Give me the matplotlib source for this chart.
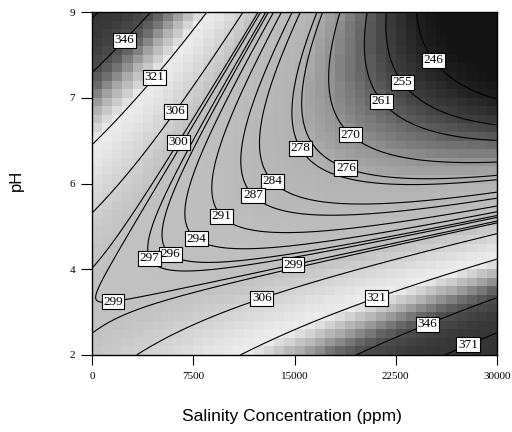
import numpy as np
import matplotlib
matplotlib.use("Agg")
import matplotlib.pyplot as plt
from matplotlib.colors import LinearSegmentedColormap, Normalize

# ---- data ----
# points lying on contour lines: salinity (ppm), pH, contour level
read_salinity = [25704, 23111, 21630, 19407, 15185, 18815, 13407, 11704, 9481, 7926,
                 5926, 3704, 1481, 6222, 14889, 5926, 12667, 4444, 20963, 2222,
                 24667, 27630,
                 0, 0, 0, 0,
                 444, 4444, 8519, 11185, 16296, 18370, 20222, 21704, 24074,
                 30000, 30000, 30000, 30000, 30000, 30000, 30000, 30000, 30000, 30000, 30000,
                 4519, 14148, 20074, 26296]
read_ph = [8.10, 7.59, 7.22, 6.57, 6.18, 5.82, 5.55, 5.20, 4.80, 4.45,
           4.10, 3.90, 3.24, 6.37, 3.84, 7.02, 3.08, 7.71, 3.24, 8.47,
           2.73, 2.35,
           8.73, 7.61, 6.14, 4.71,
           9, 9, 9, 9, 9, 9, 9, 9, 9,
           7.41, 6.76, 6.49, 6.02, 5.63, 5.22, 5.02, 4.31, 3.80, 3.16, 2.51,
           2, 2, 2, 2]
read_level = [246, 255, 261, 270, 278, 276, 284, 287, 291, 294,
              296, 297, 299, 300, 300, 306, 306, 321, 321, 346,
              346, 371,
              371, 346, 321, 306,
              371, 346, 321, 306, 278, 270, 261, 255, 246,
              246, 255, 261, 270, 278, 284, 291, 306, 321, 346, 371,
              306, 321, 346, 371]

contour_levels = [246, 255, 261, 270, 276, 278, 284, 287, 291, 294, 296, 297,
                  299, 300, 306, 321, 346, 371]

# label positions (salinity, pH)
label_positions = [(25704, 8.10), (23111, 7.59), (21630, 7.22), (19407, 6.57),
                   (15185, 6.18), (18815, 5.82), (13407, 5.55), (11704, 5.20),
                   (9481, 4.80), (7926, 4.45), (5926, 4.10), (3704, 3.90),
                   (1481, 3.24), (6222, 6.37), (14889, 3.84), (5926, 7.02),
                   (12667, 3.08), (4444, 7.71), (20963, 3.24), (2222, 8.47),
                   (24667, 2.73), (27630, 2.35)]

x_ticks = [0, 7500, 15000, 22500, 30000]
x_ticklabels = ["0", "7500", "15000", "22500", "30000"]
y_ticks = [2, 3.75, 5.5, 7.25, 9]
y_ticklabels = ["2", "4", "6", "7", "9"]

# gray shade of the background as a function of response value
shade_values = [240, 246, 255, 261, 270, 278, 290, 300, 306, 315, 321, 330, 340, 346, 360, 380]
shade_gray = [0.08, 0.12, 0.25, 0.38, 0.58, 0.70, 0.74, 0.76, 0.82, 0.90, 0.93, 0.70, 0.40, 0.30, 0.22, 0.20]

# ---- quadratic response surface fitted to the readings ----
def design(s, p):
    x1 = (np.asarray(s, float) - 15000) / 15000
    x2 = (np.asarray(p, float) - 5.5) / 3.5
    return np.stack([np.ones_like(x1), x1, x2, x1 * x2, x1 ** 2, x2 ** 2], axis=-1)

lev = np.asarray(read_level, float)
# near the saddle the surface is flat, so those readings get more weight
w = np.where((lev >= 291) & (lev <= 300), 4.0, 1.0)
A = design(read_salinity, read_ph)
coef, *_ = np.linalg.lstsq(A * w[:, None], lev * w, rcond=None)

def response(s, p):
    return design(s, p) @ coef

plt.rcParams['font.family'] = ['Liberation Serif', 'DejaVu Serif']
fig = plt.figure(figsize=(5.12, 4.32), dpi=100)
ax = fig.add_axes([92 / 512, 1 - 355 / 432, 405 / 512, 343 / 432])

vmin, vmax = shade_values[0], shade_values[-1]
pos = [(v - vmin) / (vmax - vmin) for v in shade_values]
cmap = LinearSegmentedColormap.from_list("shade", [(p_, (g, g, g)) for p_, g in zip(pos, shade_gray)])

ncell = 40
se = np.linspace(0, 30000, ncell + 1)
pe = np.linspace(2, 9, ncell + 1)
sc = 0.5 * (se[:-1] + se[1:])
pc = 0.5 * (pe[:-1] + pe[1:])
SC, PC = np.meshgrid(sc, pc)
ax.pcolormesh(se, pe, response(SC, PC), cmap=cmap, norm=Normalize(vmin, vmax), shading='flat')

sf = np.linspace(0, 30000, 300)
pf = np.linspace(2, 9, 300)
SF, PF = np.meshgrid(sf, pf)
cs = ax.contour(SF, PF, response(SF, PF), levels=contour_levels, colors='black', linewidths=0.8)
labels = ax.clabel(cs, fmt='%d', manual=label_positions, inline=False, fontsize=9.5)
for t in labels:
    t.set_rotation(0)
    t.set_bbox(dict(boxstyle='square,pad=0.12', facecolor='white', edgecolor='black', linewidth=0.8))

ax.set_xlim(0, 30000)
ax.set_ylim(2, 9)
ax.set_xticks(x_ticks)
ax.set_xticklabels(x_ticklabels)
ax.set_yticks(y_ticks)
ax.set_yticklabels(y_ticklabels)
ax.tick_params(axis='x', direction='out', length=7, width=0.8, labelsize=8, pad=5)
ax.tick_params(axis='y', direction='out', length=8, width=0.8, labelsize=8, pad=4)
for sp in ax.spines.values():
    sp.set_linewidth(1.0)

fig.text(292 / 512, 1 - 416 / 432, "Salinity Concentration (ppm)", ha='center', va='center',
         fontsize=12.5, family=['Liberation Sans', 'DejaVu Sans'])
fig.text(16 / 512, 1 - 180 / 432, "pH", ha='center', va='center', rotation=90,
         fontsize=12, family=['Liberation Sans', 'DejaVu Sans'])

fig.savefig("out.png", dpi=100)
